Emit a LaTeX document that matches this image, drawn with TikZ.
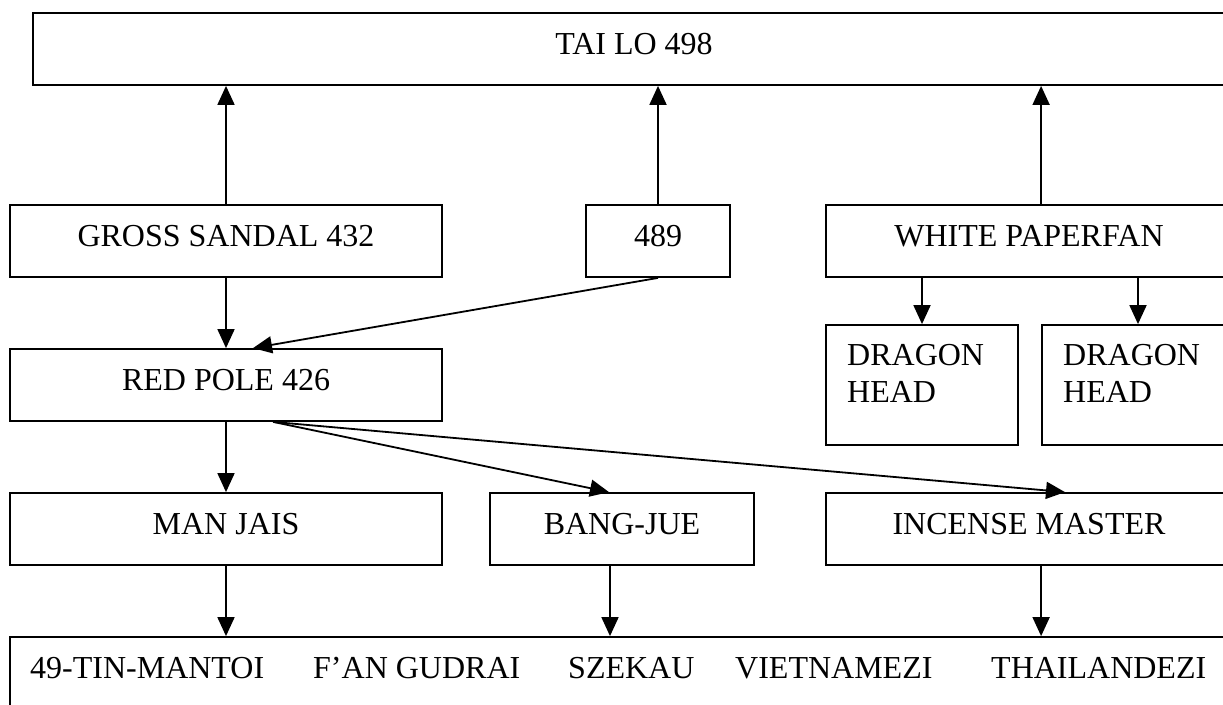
\documentclass[tikz,border=0pt]{standalone}
\usepackage{fontspec}
\setmainfont{Liberation Serif}
\usetikzlibrary{arrows.meta,calc}
\begin{document}
\begin{tikzpicture}[x=1pt,y=-1pt,
  box/.style={draw,line width=1.8pt,rectangle,inner sep=0pt,minimum height=72pt,
    text height=22pt,text depth=11pt,font=\fontsize{32}{37}\selectfont},
  tall/.style={draw,line width=1.8pt,rectangle,inner sep=0pt,minimum height=120pt},
  lbl/.style={inner sep=0pt,anchor=base west,font=\fontsize{32}{37}\selectfont},
  conn/.style={line width=1.8pt,-{Triangle[length=19pt,width=17pt]}}]
\useasboundingbox (0,0) rectangle (1223,704);
\clip (0,0) rectangle (1223,704);
% boxes
\node[box,minimum width=1202pt] (top) at (634,49) {TAI LO 498};
\node[box,minimum width=432pt] (gs) at (226,241) {GROSS SANDAL 432};
\node[box,minimum width=144pt] (n489) at (658,241) {489};
\node[box,minimum width=406pt] (wp) at (1029,241) {WHITE PAPERFAN};
\node[box,minimum width=432pt] (rp) at (226,385) {RED POLE 426};
\node[tall,minimum width=192pt] (dh1) at (922,385) {};
\node[tall,minimum width=192pt] (dh2) at (1138,385) {};
\node[lbl,align=left] (dh1t) at (847,402) {DRAGON\\HEAD};
\node[lbl,align=left] (dh2t) at (1063,402) {DRAGON\\HEAD};
\node[box,minimum width=432pt] (mj) at (226,529) {MAN JAIS};
\node[box,minimum width=264pt] (bj) at (622,529) {BANG-JUE};
\node[box,minimum width=406pt] (im) at (1029,529) {INCENSE MASTER};
\node[draw,line width=1.8pt,rectangle,inner sep=0pt,minimum width=1240pt,minimum height=100pt] (bot) at (630,687) {};
\node[lbl] (t1) at (30,678) {49-TIN-MANTOI};
\node[lbl] (t2) at (313,678) {F’AN GUDRAI};
\node[lbl] (t3) at (568,678) {SZEKAU};
\node[lbl] (t4) at (735,678) {VIETNAMEZI};
\node[lbl] (t5) at (991,678) {THAILANDEZI};
% connectors
\draw[conn] (gs.north) -- (gs.north |- top.south);
\draw[conn] (n489.north) -- (n489.north |- top.south);
\coordinate (wpup) at ($(wp.north west)+(216,0)$);
\draw[conn] (wpup) -- (wpup |- top.south);
\draw[conn] (gs.south) -- (rp.north);
\draw[conn] (n489.south) -- ($(rp.north)+(27,0)$);
\draw[conn] (dh1.north |- wp.south) -- (dh1.north);
\draw[conn] (dh2.north |- wp.south) -- (dh2.north);
\coordinate (rpout) at ($(rp.south west)+(264,0)$);
\draw[conn] (rp.south) -- (mj.north);
\draw[conn] (rpout) -- ($(bj.north)+(-13,0)$);
\draw[conn] (rpout) -- ($(im.north)+(36,0)$);
\draw[conn] (mj.south) -- (mj.south |- bot.north);
\coordinate (bjdown) at ($(bj.south)+(-12,0)$);
\draw[conn] (bjdown) -- (bjdown |- bot.north);
\coordinate (imdown) at ($(im.south west)+(216,0)$);
\draw[conn] (imdown) -- (imdown |- bot.north);
\end{tikzpicture}
\end{document}
